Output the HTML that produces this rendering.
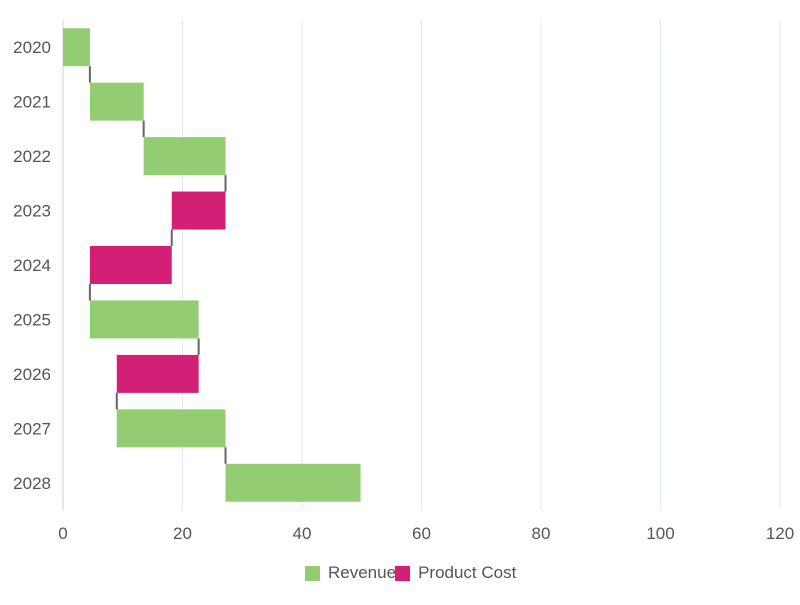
<!DOCTYPE html>
<html><head><meta charset="utf-8"><style>
body{margin:0;background:#fff;font-family:"Liberation Sans",sans-serif}
svg text{font-family:"Liberation Sans",sans-serif;fill:#555}
</style></head><body>
<svg id="c" width="800" height="600"></svg>
<script>
const categories=["2020","2021","2022","2023","2024","2025","2026","2027","2028"];
const changes=[4.5,9,13.7,-9,-13.7,18.2,-13.7,18.2,22.6];
const xTicks=[0,20,40,60,80,100,120];
const ns="http://www.w3.org/2000/svg";
const svg=document.getElementById('c');
const L=63,R=780,T=20,B=510;
const x=v=>L+(v/120)*(R-L);
const band=(B-T)/categories.length;
const yc=i=>T+band*i+band/2;
function mk(t,a,p){const e=document.createElementNS(ns,t);for(const k in a)e.setAttribute(k,a[k]);(p||svg).appendChild(e);return e;}
xTicks.forEach(t=>{
  const g=mk('line',{x1:x(t),x2:x(t),y1:T,y2:B,stroke:t===0?'#c8d2dc':'#e0eaf2','stroke-width':1});
  
  
  const l=mk('text',{x:x(t),y:539,'text-anchor':'middle','font-size':17});
  l.textContent=t;
  
  
});
let cum=0;
categories.forEach((c,i)=>{
  const s=cum,e=cum+changes[i];cum=e;
  const r=mk('rect',{x:x(Math.min(s,e)),y:yc(i)-19,width:Math.abs(x(e)-x(s)),height:38,fill:changes[i]>=0?'#93cc72':'#d41f76'});
  
  
  if(i<categories.length-1){
    const ln=mk('line',{x1:x(e),x2:x(e),y1:yc(i)+19,y2:yc(i+1)-19,stroke:'#666','stroke-width':2});
    
    
  }
  const t=mk('text',{x:51,y:yc(i)+6,'text-anchor':'end','font-size':17});
  t.textContent=c;
  
  
});
</script>
<div style="position:absolute;left:305px;top:563px;display:flex;align-items:center;font-size:17px;color:#555">
<span style="display:inline-block;width:15px;height:15px;background:#93cc72;margin-right:8px"></span><span>Revenue</span>
<span style="display:inline-block;width:15px;height:15px;background:#d41f76;margin:0 8px 0 -1px"></span><span>Product Cost</span>
</div>
</body></html>
